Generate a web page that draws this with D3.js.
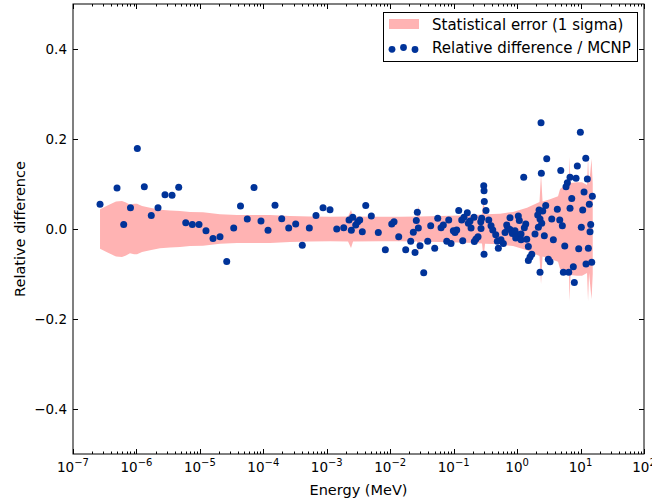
<!DOCTYPE html>
<html><head><meta charset="utf-8">
<script src="https://cdn.jsdelivr.net/npm/d3@7"></script>
<style>
body{margin:0;background:#fff}
svg{display:block}
text{font-family:"DejaVu Sans",sans-serif;fill:#000}
</style>
</head><body>
<svg id="c" width="652" height="500"></svg>
<script>
// log10 of energy (MeV) and relative difference of each point
const pointLogE = [
-6.574,-6.306,-6.201,-6.094,-5.986,-5.876,-5.766,-5.660,-5.550,-5.439,
-5.334,-5.223,-5.119,-5.014,-4.904,-4.793,-4.683,-4.577,-4.467,-4.360,
-4.253,-4.147,-4.037,-3.926,-3.816,-3.710,-3.600,-3.490,-3.386,-3.275,-3.170,
-3.059,-2.949,-2.843,-2.733,-2.649,-2.591,-2.613,-2.544,-2.512,-2.481,
-2.440,-2.386,-2.298,-2.188,-2.077,-1.976,-1.940,-1.866,-1.756,-1.677,
-1.636,-1.609,-1.589,-1.573,-1.557,-1.530,
-1.472,-1.409,-1.362,-1.299,-1.251,-1.199,-1.163,-1.109,-1.078,-1.042,
-1.005,-0.979,-0.952,-0.920,-0.873,-0.857,-0.837,-0.785,-0.769,-0.742,
-0.679,-0.674,-0.648,-0.616,-0.573,-0.558,-0.526,-0.521,-0.517,-0.490,
-0.521,-0.447,-0.411,-0.384,-0.337,-0.312,-0.296,-0.726,-0.569,
0.377,0.467,0.382,0.104,0.451,0.404,0.346,0.325,0.546,-0.112,
0.019,0.035,0.361,0.388,0.335,0.136,0.114,-0.164,-0.148,-0.190,
-0.112,-0.075,-0.033,0.019,0.062,0.282,0.429,0.571,-0.254,-0.217,
-0.022,0.062,0.152,0.177,0.204,0.177,0.231,0.492,0.519,0.361,
0.997,1.082,0.949,0.688,0.834,0.929,1.107,0.792,0.771,1.055,
1.186,0.861,1.138,0.634,0.834,1.034,0.672,0.713,1.012,1.160,
1.149,0.751,0.971,1.123,0.886,0.729,0.814,0.902,1.086,1.176
];
const pointDiff = [
0.055,0.091,0.010,0.047,0.179,0.094,0.030,0.047,0.076,0.075,
0.093,0.014,0.010,0.010,-0.004,-0.021,-0.017,-0.072,0.002,0.051,
0.022,0.092,0.018,-0.003,0.053,0.023,0.002,0.011,-0.036,0.002,0.030,
0.047,0.043,0.000,0.003,0.020,0.026,-0.003,0.009,0.016,0.020,
-0.006,0.052,0.029,-0.008,-0.046,0.011,0.016,-0.017,-0.046,-0.027,
-0.007,-0.052,0.019,0.037,0.002,-0.037,
-0.097,-0.027,0.007,-0.043,0.024,0.003,0.009,-0.027,0.020,-0.032,
-0.004,-0.008,-0.002,0.041,0.020,-0.026,0.026,0.036,0.013,0.018,
0.026,-0.028,-0.022,-0.017,0.016,0.024,0.096,0.085,0.061,0.041,
-0.056,0.020,0.007,-0.002,-0.013,-0.027,-0.043,0.002,0.001,
0.236,0.156,0.124,0.115,0.052,0.040,0.042,0.031,0.022,0.025,
0.029,0.019,0.022,0.013,0.004,0.011,0.003,0.009,0.002,-0.008,
-0.001,-0.010,-0.004,-0.013,-0.011,-0.011,-0.015,-0.024,-0.024,-0.032,
-0.020,-0.024,-0.023,-0.039,-0.062,-0.070,-0.056,-0.067,-0.073,-0.096,
0.215,0.157,0.140,0.130,0.115,0.113,0.111,0.103,0.094,0.082,
0.073,0.068,0.055,0.044,0.046,0.042,0.020,0.007,0.004,0.010,
-0.006,-0.038,-0.044,-0.043,-0.084,-0.096,-0.096,-0.119,-0.078,-0.074
];
// statistical error band (1 sigma), log10 energy and half-width
const bandLogE = [
-6.574,-6.448,-6.322,-6.228,-6.165,-6.102,-6.038,-5.991,-5.912,-5.786,
-5.629,-5.471,-5.313,-5.156,-4.951,-4.683,-4.415,-3.895,-3.579,-3.264,
-2.949,-2.665,-2.618,-2.586,-2.161,-1.846,-1.578,-1.554,-1.530,-1.215,
-0.900,-0.663,-0.553,-0.529,-0.506,-0.269,-0.064,0.156,0.353,0.377,
0.401,0.519,0.645,0.677,0.787,0.818,0.826,0.842,0.945,1.023,
1.102,1.118,1.134,1.173,1.192
];
const bandSigma = [
0.044,0.053,0.061,0.062,0.059,0.054,0.056,0.056,0.051,0.047,
0.043,0.041,0.040,0.038,0.037,0.033,0.031,0.031,0.029,0.028,
0.027,0.028,0.042,0.028,0.027,0.027,0.028,0.051,0.028,0.029,
0.030,0.031,0.032,0.067,0.033,0.034,0.038,0.047,0.060,0.122,
0.061,0.066,0.073,0.089,0.100,0.102,0.160,0.102,0.104,0.104,
0.098,0.160,0.098,0.156,0.100
];
const xTickExps = [-7,-6,-5,-4,-3,-2,-1,0,1,2];
const yTicks = [-0.4,-0.2,0.0,0.2,0.4];
const legendLabels = ["Statistical error (1 sigma)","Relative difference / MCNP"];

const svg = d3.select("#c");
const L = 73, R = 644, T = 4, B = 454;
const x = d3.scaleLog().domain([1e-7, 1e2]).range([L, R]);
const y = d3.scaleLinear().domain([-0.5, 0.5]).range([B, T]);

const clip = svg.append("defs").append("clipPath").attr("id","pa");
clip.append("rect").attr("x",L).attr("y",T).attr("width",R-L).attr("height",B-T);

const band = bandLogE.map((v,i)=>({e:Math.pow(10,v), s:bandSigma[i]}));
const area = d3.area().x(d=>x(d.e)).y0(d=>y(-d.s)).y1(d=>y(d.s));
const g = svg.append("g").attr("clip-path","url(#pa)");
g.append("path").attr("d", area(band)).attr("fill","#ffb3b3").attr("stroke","none");

const pts = pointLogE.map((v,i)=>({e:Math.pow(10,v), d:pointDiff[i]}));
g.selectAll("circle").data(pts).enter().append("circle")
  .attr("cx",d=>x(d.e)).attr("cy",d=>y(d.d)).attr("r",3.5).attr("fill","#003399");

// frame
svg.append("rect").attr("x",L).attr("y",T).attr("width",R-L).attr("height",B-T)
  .attr("fill","none").attr("stroke","#000").attr("stroke-width",1);

// x ticks (major + minor) on bottom and top
const ax = svg.append("g").attr("stroke","#000").attr("stroke-width",1);
xTickExps.forEach(p=>{
  const xv = Math.round(x(Math.pow(10,p)))+0.5;
  ax.append("line").attr("x1",xv).attr("x2",xv).attr("y1",B).attr("y2",B-5);
  ax.append("line").attr("x1",xv).attr("x2",xv).attr("y1",T).attr("y2",T+5);
  if (p < 2) for (let k=2;k<10;k++){
    const xm = Math.round(x(k*Math.pow(10,p)))+0.5;
    ax.append("line").attr("x1",xm).attr("x2",xm).attr("y1",B).attr("y2",B-2.5);
    ax.append("line").attr("x1",xm).attr("x2",xm).attr("y1",T).attr("y2",T+2.5);
  }
});
yTicks.forEach(t=>{
  const yv = Math.round(y(t))+0.5;
  ax.append("line").attr("x1",L).attr("x2",L+5).attr("y1",yv).attr("y2",yv);
  ax.append("line").attr("x1",R).attr("x2",R-5).attr("y1",yv).attr("y2",yv);
});

// x tick labels
xTickExps.forEach(p=>{
  const t = svg.append("text").attr("x", x(Math.pow(10,p))).attr("y", 472)
    .attr("text-anchor","middle").style("font-size","13.5px");
  t.append("tspan").text("10");
  t.append("tspan").attr("dy",-6).style("font-size","10px").text(p<0 ? "\u2212"+(-p) : String(p));
});
// y tick labels
const fmt = d3.format(".1f");
yTicks.forEach(t=>{
  svg.append("text").attr("x", L-6).attr("y", y(t)+5).attr("text-anchor","end")
    .style("font-size","13.5px").text(fmt(t));
});

// axis titles
svg.append("text").attr("x",(L+R)/2).attr("y",495).attr("text-anchor","middle")
  .style("font-size","14.5px").text("Energy (MeV)");
svg.append("text").attr("transform","translate(25,"+((T+B)/2)+") rotate(-90)")
  .attr("text-anchor","middle").style("font-size","14.5px").text("Relative difference");

// legend
const lg = svg.append("g");
lg.append("rect").attr("x",383.5).attr("y",12.5).attr("width",254).attr("height",49)
  .attr("fill","#fff").attr("stroke","#000").attr("stroke-width",1);
lg.append("rect").attr("x",389).attr("y",19).attr("width",30).attr("height",10).attr("fill","#ffb3b3");
lg.append("text").attr("x",432).attr("y",29.5).style("font-size","15px").text(legendLabels[0]);
[[392,49.3],[403.5,47.5],[415,49.5]].forEach(c=>{
  lg.append("circle").attr("cx",c[0]).attr("cy",c[1]).attr("r",3.4).attr("fill","#003399");
});
lg.append("text").attr("x",432).attr("y",52.5).style("font-size","15px").text(legendLabels[1]);
</script>
</body></html>
